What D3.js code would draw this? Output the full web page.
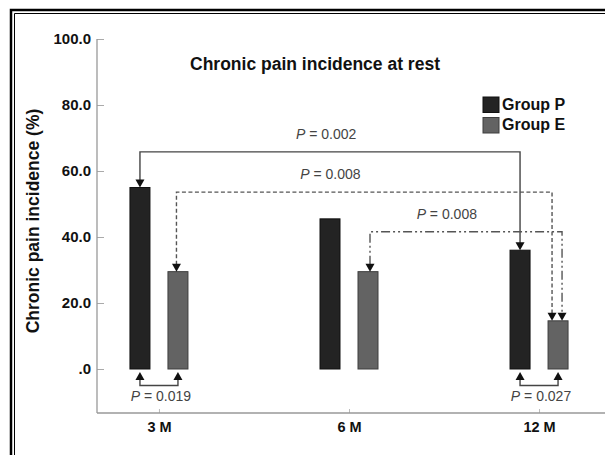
<!DOCTYPE html>
<html>
<head>
<meta charset="utf-8">
<script src="https://cdn.jsdelivr.net/npm/d3@7"></script>
<style>
  body { margin: 0; background: #fff; overflow: hidden; }
  svg { display: block; }
  text { font-family: "Liberation Sans", Arial, sans-serif; }
</style>
</head>
<body>
<script>
// data
var categories = ["3 M", "6 M", "12 M"];
var groups = ["Group P", "Group E"];
var groupP = [55.0, 45.5, 36.0];
var groupE = [29.5, 29.5, 14.6];
var yTicks = [0, 20, 40, 60, 80, 100];
var yTickLabels = [".0", "20.0", "40.0", "60.0", "80.0", "100.0"];

// between-time comparisons (arrow from -> to) and within-time comparisons
var timeComparisons = [
  { from: ["3 M", "Group P"], to: ["12 M", "Group P"], label: "0.002" },
  { from: ["3 M", "Group E"], to: ["12 M", "Group E"], label: "0.008" },
  { from: ["6 M", "Group E"], to: ["12 M", "Group E"], label: "0.008" }
];
var groupComparisons = [
  { cat: "3 M", label: "0.019" },
  { cat: "12 M", label: "0.027" }
];

var svgWidth = 605;
var svgHeight = 455;

var svg = d3.select("body")
  .append("svg")
  .attr("width", svgWidth)
  .attr("height", svgHeight);

// double frame, runs off the right and bottom edges
svg.append("path")
  .attr("d", "M" + svgWidth + ",10H11V" + svgHeight)
  .attr("fill", "none").attr("stroke", "#000").attr("stroke-width", 2.5);
svg.append("path")
  .attr("d", "M" + svgWidth + ",13.5H14.5V" + svgHeight)
  .attr("fill", "none").attr("stroke", "#000").attr("stroke-width", 1);

var axisX = 97;
var axisY = 413;

var y = d3.scaleLinear().domain([0, 100]).range([369, 39]);
var x = d3.scalePoint().domain(categories).range([axisX, 601]).padding(0.326);
var sub = d3.scaleBand().domain(groups).range([-29, 29]).paddingInner(0.4737);

var colors = { "Group P": "#232323", "Group E": "#636363" };
var strokes = { "Group P": "#111", "Group E": "#3e3e3e" };

// y axis
var yAxis = d3.axisLeft(y)
  .tickValues(yTicks)
  .tickFormat(function(d, i) { return yTickLabels[i]; })
  .tickSizeInner(-7)
  .tickSizeOuter(0)
  .tickPadding(6);

var yg = svg.append("g")
  .attr("transform", "translate(" + axisX + ",0)")
  .call(yAxis);
yg.select(".domain").remove();
yg.selectAll(".tick line").attr("stroke", "#aaa");
yg.selectAll(".tick text")
  .attr("x", -6)
  .style("font-size", "15px")
  .style("font-weight", "bold")
  .attr("fill", "#111");

svg.append("line")
  .attr("x1", axisX).attr("x2", axisX)
  .attr("y1", y(100)).attr("y2", axisY)
  .attr("stroke", "#999").attr("stroke-width", 1.3);

// x axis
var xAxis = d3.axisBottom(x).tickSizeInner(-4).tickSizeOuter(0).tickPadding(9);
var xg = svg.append("g")
  .attr("transform", "translate(0," + axisY + ")")
  .call(xAxis);
xg.select(".domain").remove();
xg.selectAll(".tick line").attr("stroke", "#bbb");
xg.selectAll(".tick text")
  .style("font-size", "14.5px")
  .style("font-weight", "bold")
  .attr("fill", "#111");

svg.append("line")
  .attr("x1", axisX).attr("x2", svgWidth)
  .attr("y1", axisY).attr("y2", axisY)
  .attr("stroke", "#999").attr("stroke-width", 1.3);

// bars
var barData = [];
categories.forEach(function(c, i) {
  barData.push({ cat: c, group: "Group P", value: groupP[i] });
  barData.push({ cat: c, group: "Group E", value: groupE[i] });
});

svg.selectAll(".bar")
  .data(barData)
  .enter()
  .append("rect")
  .attr("class", "bar")
  .attr("x", function(d) { return x(d.cat) + sub(d.group); })
  .attr("y", function(d) { return y(d.value); })
  .attr("width", sub.bandwidth())
  .attr("height", function(d) { return y(0) - y(d.value); })
  .attr("fill", function(d) { return colors[d.group]; })
  .attr("stroke", function(d) { return strokes[d.group]; })
  .attr("stroke-width", 1);

function barCenter(cat, group) {
  return x(cat) + sub(group) + sub.bandwidth() / 2;
}
function valueOf(cat, group) {
  var i = categories.indexOf(cat);
  return group === "Group P" ? groupP[i] : groupE[i];
}

// arrowhead pointing down (dir 1) or up (dir -1), tip at (cx, cy)
function arrowHead(cx, cy, dir) {
  svg.append("path")
    .attr("d", "M" + (cx - 4.5) + "," + (cy - dir * 8) + "L" + (cx + 4.5) + "," + (cy - dir * 8) + "L" + cx + "," + cy + "Z")
    .attr("fill", "#111");
}

function pLabel(px, py, value, size) {
  var t = svg.append("text")
    .attr("x", px).attr("y", py)
    .attr("text-anchor", "middle")
    .attr("dominant-baseline", "middle")
    .style("font-size", size)
    .attr("fill", "#444");
  t.append("tspan").style("font-style", "italic").text("P");
  t.append("tspan").text(" = " + value);
}

// line levels and styles for the three time comparisons
var levels = [65.8, 53.6, 41.6];
var startShift = [0, -1.5, 2];
var endShift = [0, -6, 4];
var dashes = [null, "4,2.5", "9,3,2,3,2,3"];
var labelAt = [0.49, 0.41, 0.40];

timeComparisons.forEach(function(c, i) {
  var x1 = barCenter(c.from[0], c.from[1]) + startShift[i];
  var x2 = barCenter(c.to[0], c.to[1]) + endShift[i];
  var y1 = y(valueOf(c.from[0], c.from[1]));
  var y2 = y(valueOf(c.to[0], c.to[1]));
  var ly = y(levels[i]);
  svg.append("path")
    .attr("d", "M" + x1 + "," + (y1 - 7) + "V" + ly + "H" + x2 + "V" + (y2 - 7))
    .attr("fill", "none")
    .attr("stroke", i === 0 ? "#444" : "#555")
    .attr("stroke-width", 1.4)
    .attr("stroke-dasharray", dashes[i]);
  arrowHead(x1, y1, 1);
  arrowHead(x2, y2, 1);
  pLabel(x1 + (x2 - x1) * labelAt[i], ly - 17, c.label, "14px");
});

groupComparisons.forEach(function(c) {
  var x1 = barCenter(c.cat, "Group P");
  var x2 = barCenter(c.cat, "Group E");
  var top = y(0) + 3;
  var by = 385.5;
  svg.append("path")
    .attr("d", "M" + x1 + "," + (top + 6) + "V" + by + "H" + x2 + "V" + (top + 6))
    .attr("fill", "none")
    .attr("stroke", "#444")
    .attr("stroke-width", 1.4);
  arrowHead(x1, top, -1);
  arrowHead(x2, top, -1);
  pLabel((x1 + x2) / 2 + 2, 397, c.label, "14px");
});

// title
svg.append("text")
  .attr("x", 315).attr("y", 65)
  .attr("text-anchor", "middle")
  .attr("dominant-baseline", "middle")
  .style("font-size", "17.5px")
  .style("font-weight", "bold")
  .attr("fill", "#111")
  .text("Chronic pain incidence at rest");

// y axis title
svg.append("text")
  .attr("transform", "translate(34," + 221 + ") rotate(-90)")
  .attr("text-anchor", "middle")
  .attr("dominant-baseline", "middle")
  .style("font-size", "17.5px")
  .style("font-weight", "bold")
  .attr("fill", "#111")
  .text("Chronic pain incidence (%)");

// legend
var legend = svg.append("g").attr("transform", "translate(483,97)");
groups.forEach(function(g, i) {
  legend.append("rect")
    .attr("x", 0).attr("y", i * 20.5)
    .attr("width", 16).attr("height", 15.5)
    .attr("fill", colors[g])
    .attr("stroke", strokes[g]);
  legend.append("text")
    .attr("x", 19).attr("y", i * 20.5 + 8.5)
    .attr("dominant-baseline", "middle")
    .style("font-size", "16px")
    .style("font-weight", "bold")
    .attr("fill", "#111")
    .text(g);
});
</script>
</body>
</html>
